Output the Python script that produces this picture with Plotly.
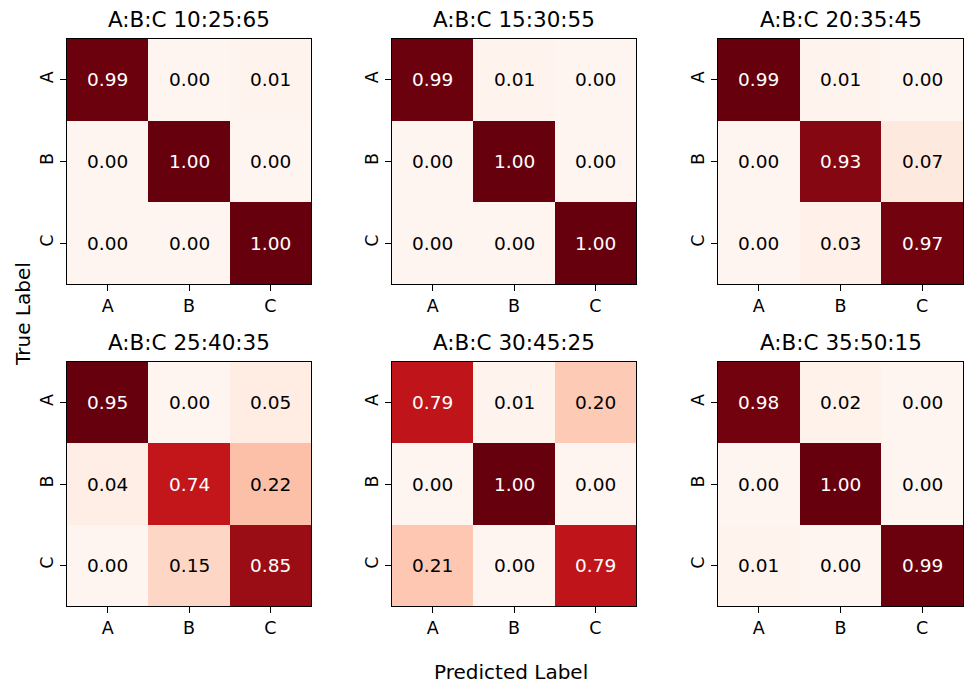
import plotly.graph_objects as go
import plotly.colors as pc

labels = ["A", "B", "C"]
titles = ["A:B:C 10:25:65", "A:B:C 15:30:55", "A:B:C 20:35:45",
          "A:B:C 25:40:35", "A:B:C 30:45:25", "A:B:C 35:50:15"]

cm_10_25_65 = [[0.99, 0.00, 0.01], [0.00, 1.00, 0.00], [0.00, 0.00, 1.00]]
cm_15_30_55 = [[0.99, 0.01, 0.00], [0.00, 1.00, 0.00], [0.00, 0.00, 1.00]]
cm_20_35_45 = [[0.99, 0.01, 0.00], [0.00, 0.93, 0.07], [0.00, 0.03, 0.97]]
cm_25_40_35 = [[0.95, 0.00, 0.05], [0.04, 0.74, 0.22], [0.00, 0.15, 0.85]]
cm_30_45_25 = [[0.79, 0.01, 0.20], [0.00, 1.00, 0.00], [0.21, 0.00, 0.79]]
cm_35_50_15 = [[0.98, 0.02, 0.00], [0.00, 1.00, 0.00], [0.01, 0.00, 0.99]]
matrices = [cm_10_25_65, cm_15_30_55, cm_20_35_45, cm_25_40_35, cm_30_45_25, cm_35_50_15]

W, H = 965, 684
reds = pc.sequential.Reds
n = len(reds)
colorscale = [[i / (n - 1), c] for i, c in enumerate(reds)]

col_px = [(67, 311), (392, 636), (718, 963)]
row_px = [(39, 284), (362, 606)]
FONT = "DejaVu Sans"

fig = go.Figure()
annotations = []
layout = {}
for k, (m, t) in enumerate(zip(matrices, titles)):
    r, c = divmod(k, 3)
    x0, x1 = col_px[c]
    y0, y1 = row_px[r]
    xa = "x" if k == 0 else f"x{k+1}"
    ya = "y" if k == 0 else f"y{k+1}"
    flat = [v for row in m for v in row]
    zmin, zmax = min(flat), max(flat)
    fig.add_trace(go.Heatmap(z=m, x=labels, y=labels, xaxis=xa, yaxis=ya,
                             colorscale=colorscale, zmin=zmin, zmax=zmax,
                             showscale=False, hoverinfo="skip"))
    thresh = (zmin + zmax) / 2
    for i, yl in enumerate(labels):
        for j, xl in enumerate(labels):
            v = m[i][j]
            annotations.append(dict(x=xl, y=yl, xref=xa, yref=ya, text=f"{v:.2f}",
                                    showarrow=False,
                                    font=dict(family=FONT, size=18.5,
                                              color="white" if v > thresh else "black")))
    axcommon = dict(showline=True, mirror=True, linecolor="black", linewidth=1,
                    ticks="outside", ticklen=6, tickcolor="black", tickwidth=1,
                    showgrid=False, zeroline=False,
                    tickfont=dict(family=FONT, size=17.5, color="black"),
                    range=[-0.5, 2.5])
    layout["xaxis" if k == 0 else f"xaxis{k+1}"] = dict(
        domain=[x0 / W, x1 / W], anchor=ya, **axcommon)
    ycfg = dict(axcommon)
    ycfg["range"] = [2.5, -0.5]
    layout["yaxis" if k == 0 else f"yaxis{k+1}"] = dict(
        domain=[1 - y1 / H, 1 - y0 / H], anchor=xa, tickangle=-90, **ycfg)
    annotations.append(dict(x=(x0 + x1) / 2 / W, y=1 - (y0 - 5) / H, xref="paper", yref="paper",
                            text=t, showarrow=False, xanchor="center", yanchor="bottom",
                            font=dict(family=FONT, size=21.5, color="black")))

annotations.append(dict(x=511 / W, y=1 - 672 / H, xref="paper", yref="paper",
                        text="Predicted Label", showarrow=False, xanchor="center",
                        yanchor="middle", font=dict(family=FONT, size=20, color="black")))
annotations.append(dict(x=23 / W, y=1 - 314 / H, xref="paper", yref="paper",
                        text="True Label", showarrow=False, textangle=-90, xanchor="center",
                        yanchor="middle", font=dict(family=FONT, size=20, color="black")))

fig.update_layout(width=W, height=H, margin=dict(l=0, r=0, t=0, b=0),
                  paper_bgcolor="white", plot_bgcolor="white",
                  annotations=annotations, showlegend=False, **layout)
fig.write_html("out.html", config={"displayModeBar": False},
               post_script="document.body.style.margin='0';")
